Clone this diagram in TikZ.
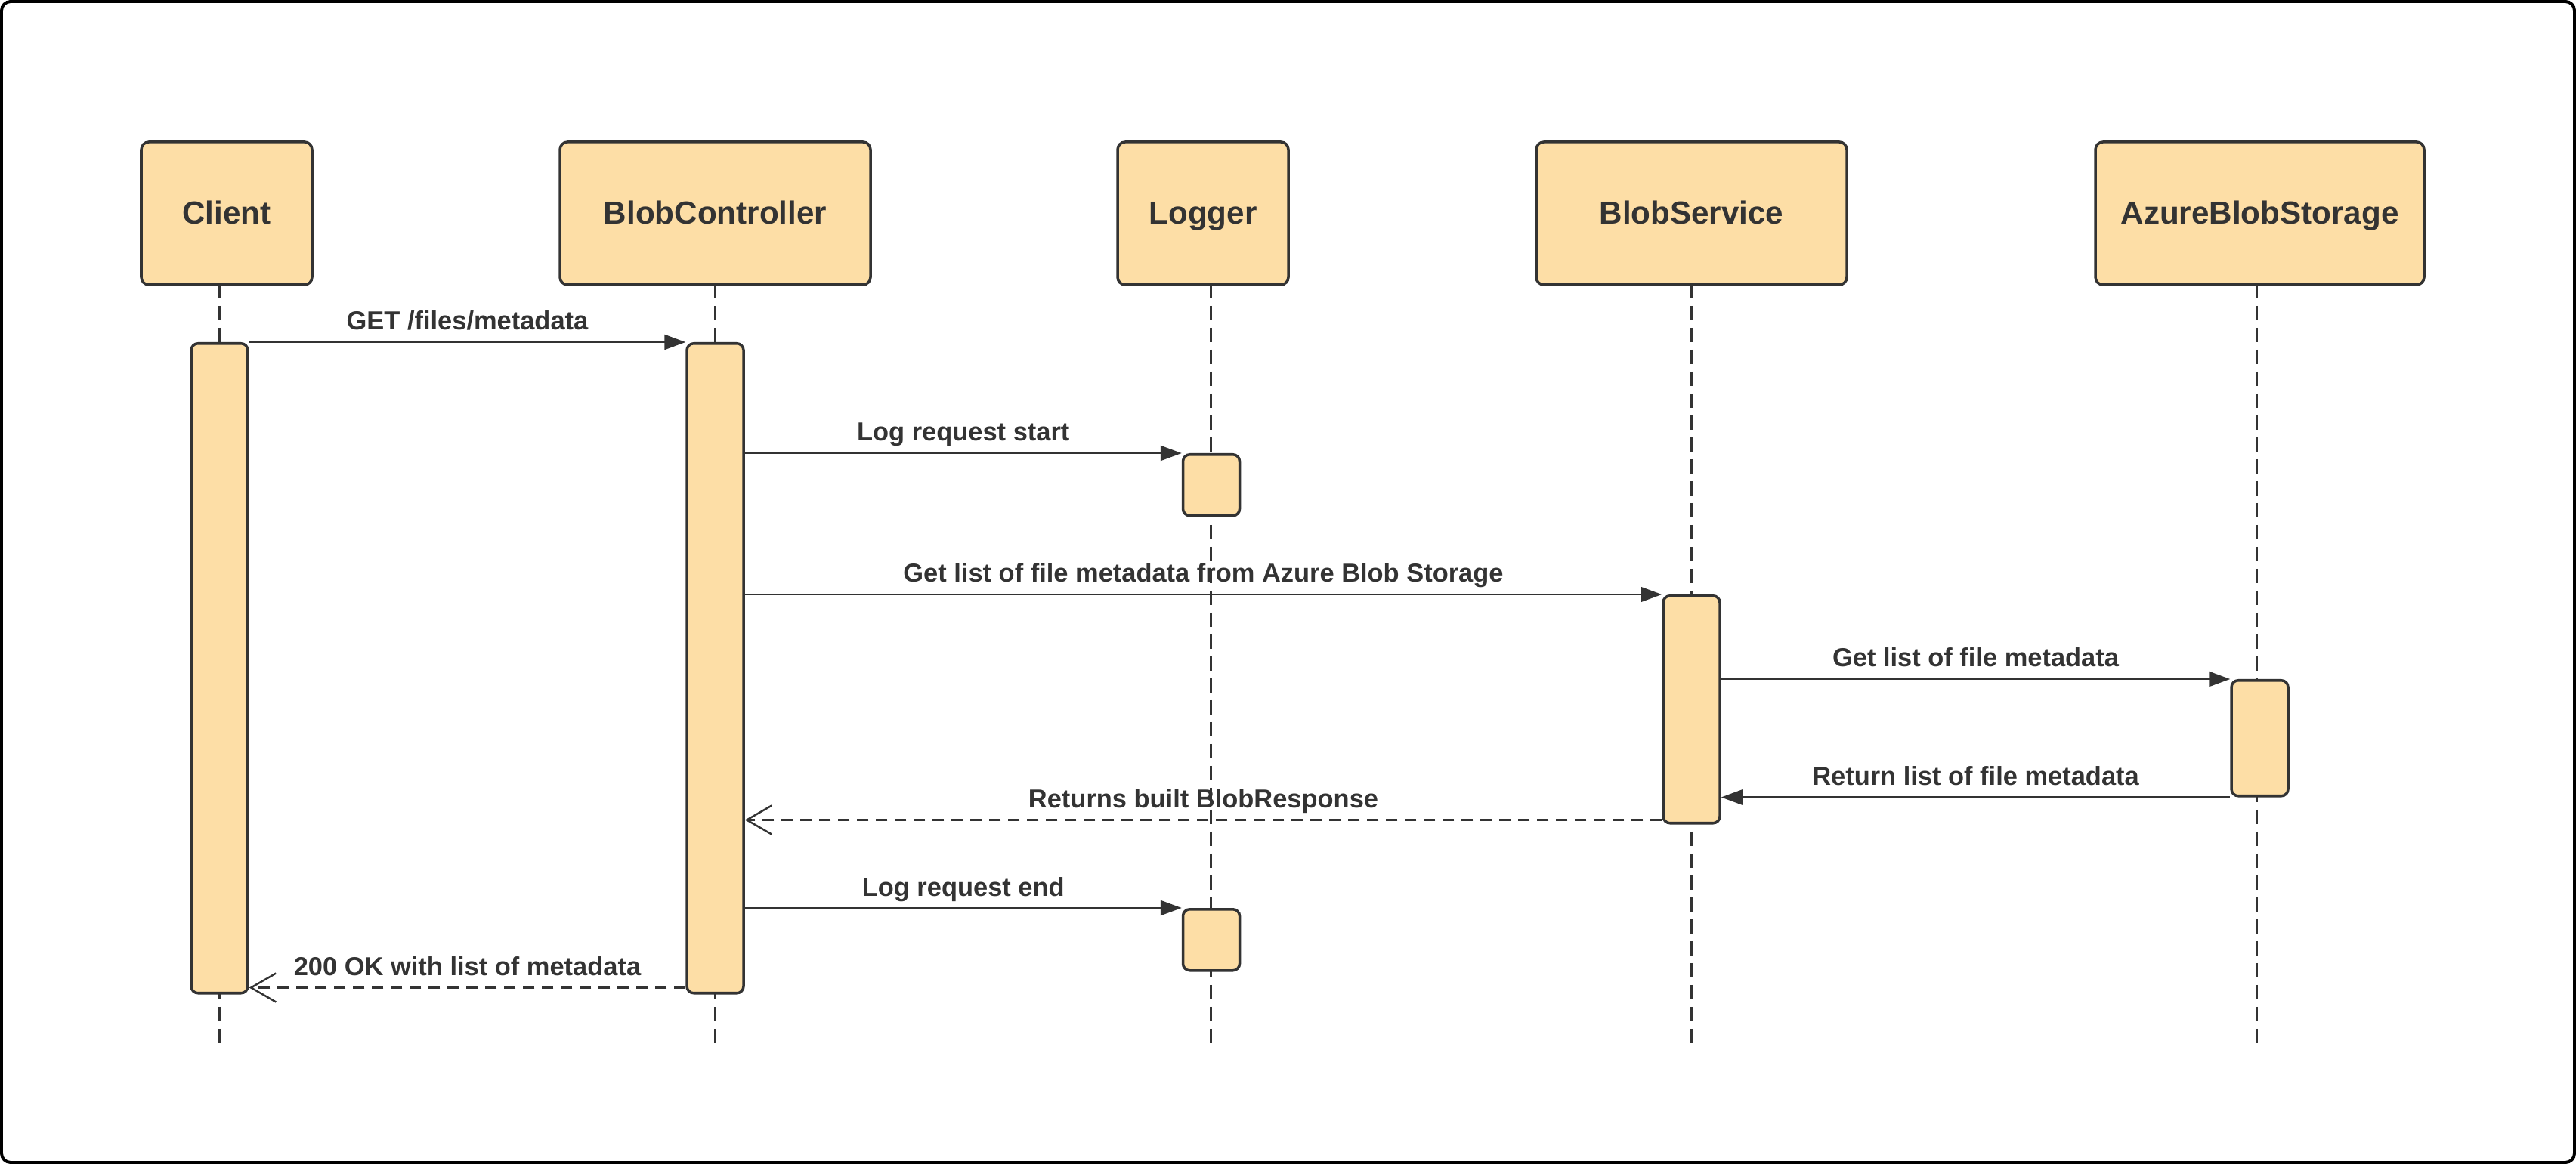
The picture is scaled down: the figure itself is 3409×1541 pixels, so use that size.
\documentclass[tikz,border=0pt]{standalone}
\usepackage{fontspec}
\setmainfont{Liberation Sans}
\usetikzlibrary{arrows.meta}

\definecolor{boxfill}{RGB}{253,222,166}
\definecolor{ink}{RGB}{51,51,51}

\tikzset{
    actor/.style={draw=ink, fill=boxfill, line width=1pt, rounded corners=1mm,
        minimum height=18.9mm, inner sep=0pt, text=ink, text height=2.9mm, text depth=0pt,
        font=\fontsize{12}{14}\selectfont\bfseries},
    activation/.style={draw=ink, fill=boxfill, line width=1pt, rounded corners=0.9mm,
        minimum width=7.5mm, inner sep=0pt, anchor=north},
    lifeline/.style={draw=ink, line width=0.7pt, dash pattern=on 1.9mm off 1mm},
    call/.style={draw=ink, line width=0.65pt, -{Triangle[length=2.8mm,width=2mm]}},
    reply/.style={draw=ink, line width=0.7pt, dash pattern=on 1.5mm off 1mm,
        -{Straight Barb[length=3.3mm,width=3.8mm]}},
    msg/.style={font=\fontsize{9.8}{12}\selectfont\bfseries, text=ink,
        anchor=base, yshift=1.6mm, inner sep=0pt}
}

\begin{document}
\begin{tikzpicture}[x=0.1mm, y=-0.1mm]
    \def\actorMid{282.5}
    \def\actorBottom{376}
    \def\lifeEnd{1387}

    \useasboundingbox (0,0) rectangle (3409,1541);

    % Frame
    \draw[line width=0.4mm, rounded corners=1.2mm] (2,2) rectangle (3407,1539);

    % Actors and lifelines
    \foreach \name/\actorName/\cx/\w/\lx in {client/Client/300/22.6/290.7,
            ctrl/BlobController/946.5/41.1/946.7,
            logger/Logger/1592/22.6/1602.7,
            service/BlobService/2238.5/41.1/2238.5,
            azure/AzureBlobStorage/2990.5/43.5/2987} {
        \coordinate (\name-top) at (\lx,\actorBottom);
        \coordinate (\name-end) at (\lx,\lifeEnd);
        \draw[lifeline] (\name-top) -- (\name-end);
        \node[actor, minimum width=\w mm] (\name) at (\cx,\actorMid) {\actorName};
    }

    % Activations
    \node[activation, minimum height=86mm] (actClient) at (290.5,453) {};
    \node[activation, minimum height=86mm] (actCtrl) at (946.5,453) {};
    \node[activation, minimum height=8.1mm] (actLogA) at (1603,600) {};
    \node[activation, minimum height=30.1mm] (actSvc) at (2238.5,787) {};
    \node[activation, minimum height=15.3mm] (actAzure) at (2990.5,899) {};
    \node[activation, minimum height=8.1mm] (actLogB) at (1603,1202) {};

    % Calls
    \draw[call] (actClient.north east)
        -- node[msg] {GET /files/metadata} (actCtrl.north west);
    \draw[call] (actCtrl.east |- actLogA.north)
        -- node[msg] {Log request start} (actLogA.north west);
    \draw[call] (actCtrl.east |- actSvc.north)
        -- node[msg] {Get list of file metadata from Azure Blob Storage} (actSvc.north west);
    \draw[call] (actSvc.east |- actAzure.north)
        -- node[msg] {Get list of file metadata} (actAzure.north west);
    \draw[call] (actAzure.south west)
        -- node[msg] {Return list of file metadata} (actSvc.east |- actAzure.south);

    % Replies
    \coordinate (retSvc) at ([yshift=0.6mm]actSvc.south west);
    \draw[reply] (retSvc)
        -- node[msg] {Returns built BlobResponse} (retSvc -| actCtrl.east);

    \draw[call] (actCtrl.east |- actLogB.north)
        -- node[msg] {Log request end} (actLogB.north west);

    \coordinate (retCtrl) at ([yshift=0.9mm]actCtrl.south west);
    \draw[reply] (retCtrl)
        -- node[msg] {200 OK with list of metadata} (retCtrl -| actClient.east);

\end{tikzpicture}
\end{document}
